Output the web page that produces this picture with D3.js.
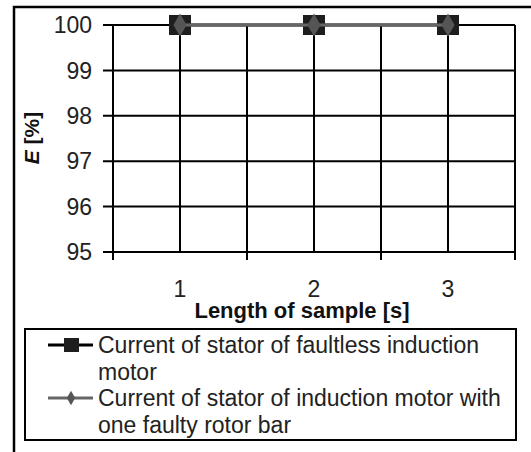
<!DOCTYPE html>
<html lang="en">
<head>
    <meta charset="UTF-8">
    <title>Efficiency vs length of sample</title>
    <script src="https://d3js.org/d3.v7.min.js"></script>
    <style>
        body, html {
            margin: 0px;
            background: #fff;
        }
        text {
            font-family: "Liberation Sans", Arial, sans-serif;
        }
    </style>
</head>
<body>
    <div id="chart"></div>
    <script>
        // data
        var samples = ["1", "2", "3"];
        var faultless = [100, 100, 100];
        var faultyBar = [100, 100, 100];
        var yTicks = [95, 96, 97, 98, 99, 100];
        var seriesNames = [
            "Current of stator of faultless induction motor",
            "Current of stator of induction motor with one faulty rotor bar"
        ];

        var width = 531, height = 452;
        var plotL = 113, plotR = 515, plotT = 25, plotB = 252;

        const svg = d3.select("#chart")
            .append("svg")
            .attr("width", width)
            .attr("height", height);

        // outer frame (runs off the right / bottom edge)
        svg.append("rect")
            .attr("x", 14).attr("y", 7)
            .attr("width", 560).attr("height", 480)
            .style("fill", "none")
            .style("stroke", "#000")
            .style("stroke-width", 2.5);

        var x = d3.scaleBand().domain(samples).range([plotL, plotR]);
        var y = d3.scaleLinear().domain([95, 100]).range([plotB, plotT]);

        var grid = svg.append("g").attr("class", "grid");

        // horizontal gridlines, with ticks sticking out to the left
        grid.selectAll("line.h")
            .data(yTicks)
            .enter().append("line")
            .attr("class", "h")
            .attr("x1", plotL - 10).attr("x2", plotR)
            .attr("y1", d => y(d)).attr("y2", d => y(d))
            .style("stroke", "#000")
            .style("stroke-width", 2);

        // vertical gridlines at category boundaries and centres
        var bounds = samples.map(d => x(d)).concat([plotR]);
        var centres = samples.map(d => x(d) + x.bandwidth() / 2);

        grid.selectAll("line.b")
            .data(bounds)
            .enter().append("line")
            .attr("class", "b")
            .attr("x1", d => d).attr("x2", d => d)
            .attr("y1", plotT).attr("y2", plotB + 8)
            .style("stroke", "#000")
            .style("stroke-width", 2);

        grid.selectAll("line.c")
            .data(centres)
            .enter().append("line")
            .attr("class", "c")
            .attr("x1", d => d).attr("x2", d => d)
            .attr("y1", plotT).attr("y2", plotB)
            .style("stroke", "#000")
            .style("stroke-width", 2);

        // y tick labels
        svg.selectAll("text.ytick")
            .data(yTicks)
            .enter().append("text")
            .attr("class", "ytick")
            .attr("x", 92)
            .attr("y", d => y(d))
            .attr("dy", "0.36em")
            .style("text-anchor", "end")
            .style("font-size", "23px")
            .style("fill", "#222")
            .text(d => d);

        // x tick labels, raised above the axis title
        svg.selectAll("text.xtick")
            .data(samples)
            .enter().append("text")
            .attr("class", "xtick")
            .attr("x", d => x(d) + x.bandwidth() / 2)
            .attr("y", 297)
            .style("text-anchor", "middle")
            .style("font-size", "23px")
            .style("fill", "#222")
            .text(d => d);

        // axis titles
        svg.append("text")
            .attr("x", 302)
            .attr("y", 318)
            .style("text-anchor", "middle")
            .style("font-size", "22px")
            .style("font-weight", "bold")
            .style("fill", "#111")
            .text("Length of sample [s]");

        var yt = svg.append("text")
            .attr("transform", "translate(39,138) rotate(-90)")
            .style("text-anchor", "middle")
            .style("font-size", "21px")
            .style("font-weight", "bold")
            .style("fill", "#111");
        yt.append("tspan").style("font-style", "italic").text("E");
        yt.append("tspan").text(" [%]");

        // series
        var line = d3.line()
            .x((d, i) => x(samples[i]) + x.bandwidth() / 2)
            .y(d => y(d));

        svg.append("path")
            .attr("d", line(faultless))
            .style("fill", "none")
            .style("stroke", "#000")
            .style("stroke-width", 3);

        svg.selectAll("rect.m1")
            .data(faultless)
            .enter().append("rect")
            .attr("class", "m1")
            .attr("x", (d, i) => x(samples[i]) + x.bandwidth() / 2 - 11)
            .attr("y", d => y(d) - 10)
            .attr("width", 22).attr("height", 20)
            .style("fill", "#1e1e1e");

        svg.append("path")
            .attr("d", line(faultyBar))
            .style("fill", "none")
            .style("stroke", "#666")
            .style("stroke-width", 3);

        var diamond = d3.symbol().type(d3.symbolDiamond).size(150);
        svg.selectAll("path.m2")
            .data(faultyBar)
            .enter().append("path")
            .attr("class", "m2")
            .attr("d", diamond)
            .attr("transform", (d, i) => "translate(" + (x(samples[i]) + x.bandwidth() / 2) + "," + y(d) + ")")
            .style("fill", "#555");

        // legend
        var legend = svg.append("g").attr("class", "legend");
        legend.append("rect")
            .attr("x", 25).attr("y", 329)
            .attr("width", 491).attr("height", 111)
            .style("fill", "#fff")
            .style("stroke", "#000")
            .style("stroke-width", 2);

        var rowY = [345, 398];
        var lineH = 27;

        seriesNames.forEach(function (name, i) {
            var cy = rowY[i];
            legend.append("line")
                .attr("x1", 48).attr("x2", 93)
                .attr("y1", cy).attr("y2", cy)
                .style("stroke", i === 0 ? "#000" : "#666")
                .style("stroke-width", 3);
            if (i === 0) {
                legend.append("rect")
                    .attr("x", 64).attr("y", cy - 7)
                    .attr("width", 15).attr("height", 14)
                    .style("fill", "#1e1e1e");
            } else {
                legend.append("path")
                    .attr("d", d3.symbol().type(d3.symbolDiamond).size(60))
                    .attr("transform", "translate(71," + cy + ")")
                    .style("fill", "#555");
            }

            var t = legend.append("text")
                .attr("x", 98)
                .attr("y", cy)
                .attr("dy", "0.36em")
                .style("font-size", "23px")
                .style("fill", "#222");

            // wrap the label to the box width
            var words = name.split(" ");
            var cur = [];
            var tspan = t.append("tspan").attr("x", 98);
            words.forEach(function (w) {
                cur.push(w);
                tspan.text(cur.join(" "));
                if (tspan.node().getComputedTextLength() > 412 && cur.length > 1) {
                    cur.pop();
                    tspan.text(cur.join(" "));
                    cur = [w];
                    tspan = t.append("tspan").attr("x", 98).attr("dy", lineH).text(w);
                }
            });
        });
    </script>
</body>
</html>
